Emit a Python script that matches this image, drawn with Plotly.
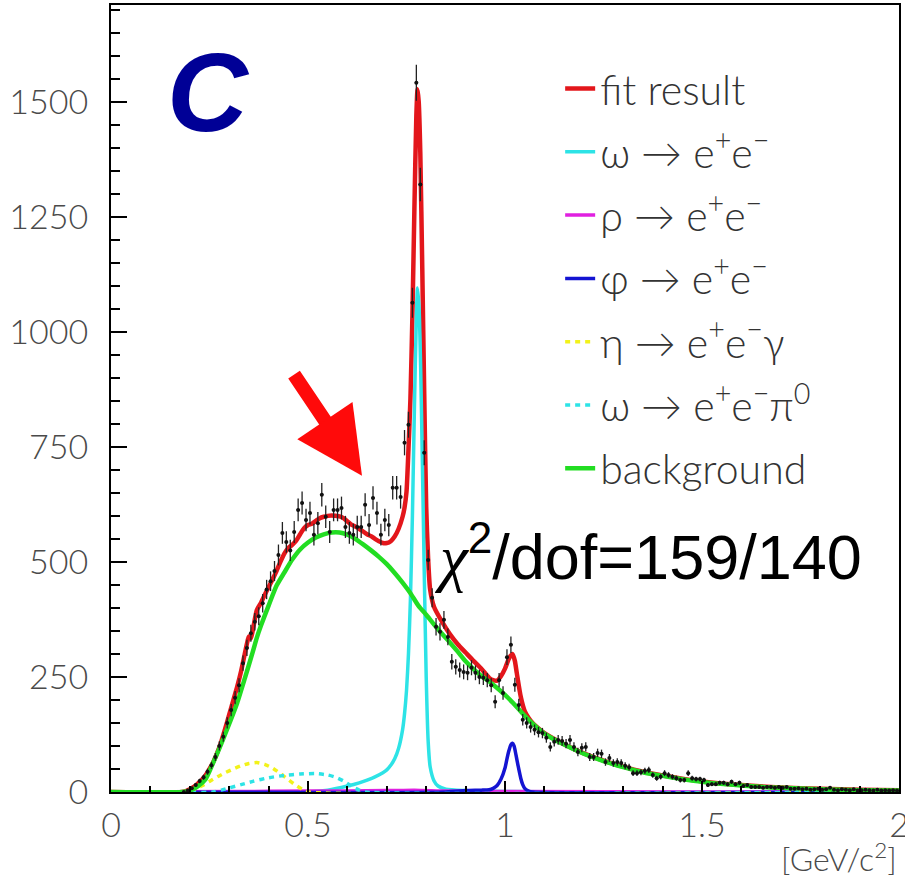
import numpy as np
import plotly.graph_objects as go

# ---------------- data ----------------
# histogram: 10 MeV bins, first bin centre 0.185 GeV/c^2
bin_first_centre = 0.185
bin_width = 0.01
counts = [
    0, 3, 8, 15, 24, 32, 44, 58, 76, 100,
    120, 150, 178, 205, 232, 280, 313, 345, 370, 382,
    410, 440, 458, 480, 515, 563, 543, 525, 565, 613,
    628, 591, 606, 559, 584, 646, 598, 565, 613, 613,
    617, 576, 563, 559, 576, 576, 624, 580, 639, 606,
    559, 591, 580, 661, 661, 641, 759, 798, 1063, 1541,
    1320, 737, 504, 422, 359, 348, 374, 337, 283, 272,
    265, 261, 259, 270, 259, 250, 248, 243, 232, 196,
    243, 215, 293, 320, 233, 189, 157, 150, 141, 135,
    130, 128, 118, 98, 109, 113, 111, 105, 113, 98,
    87, 96, 98, 76, 76, 85, 83, 65, 74, 63,
    65, 63, 57, 54, 41, 41, 43, 46, 48, 37,
    30, 33, 41, 37, 33, 30, 26, 26, 41, 30,
    28, 28, 26, 15, 17, 17, 20, 20, 17, 22,
    17, 20, 13, 15, 11, 11, 11, 9, 11, 11,
    9, 11, 9, 11, 7, 7, 8, 6, 7, 5,
    6, 7, 5, 6, 9, 5, 4, 6, 5, 4,
    6, 3, 4, 5, 4, 3, 5, 3, 4, 3,
    4, 3,
]
errors = [
    0, 1.7, 2.8, 3.9, 4.9, 5.7, 6.6, 7.6, 8.7, 10,
    11, 12.2, 13.3, 14.3, 15.2, 16.7, 17.7, 18.6, 19.2, 19.5,
    20.2, 21, 21.4, 21.9, 22.7, 23.7, 23.3, 22.9, 23.8, 24.8,
    25.1, 24.3, 24.6, 23.6, 24.2, 25.4, 24.5, 23.8, 24.8, 24.8,
    24.8, 24, 23.7, 23.6, 24, 24, 25, 24.1, 25.3, 24.6,
    23.6, 24.3, 24.1, 25.7, 25.7, 25.3, 27.5, 28.2, 32.6, 39.3,
    36.3, 27.1, 22.4, 20.5, 18.9, 18.7, 19.3, 18.4, 16.8, 16.5,
    16.3, 16.2, 16.1, 16.4, 16.1, 15.8, 15.7, 15.6, 15.2, 14,
    15.6, 14.7, 17.1, 17.9, 15.3, 13.7, 12.5, 12.2, 11.9, 11.6,
    11.4, 11.3, 10.9, 9.9, 10.4, 10.6, 10.5, 10.2, 10.6, 9.9,
    9.3, 9.8, 9.9, 8.7, 8.7, 9.2, 9.1, 8.1, 8.6, 7.9,
    8.1, 7.9, 7.5, 7.3, 6.4, 6.4, 6.6, 6.8, 6.9, 6.1,
    5.5, 5.7, 6.4, 6.1, 5.7, 5.5, 5.1, 5.1, 6.4, 5.5,
    5.3, 5.3, 5.1, 3.9, 4.1, 4.1, 4.5, 4.5, 4.1, 4.7,
    4.1, 4.5, 3.6, 3.9, 3.3, 3.3, 3.3, 3, 3.3, 3.3,
    3, 3.3, 3, 3.3, 2.6, 2.6, 2.8, 2.4, 2.6, 2.2,
    2.4, 2.6, 2.2, 2.4, 3, 2.2, 2, 2.4, 2.2, 2,
    2.4, 1.7, 2, 2.2, 2, 1.7, 2.2, 1.7, 2, 1.7,
    2, 1.7,
]

# fit result (red)
fit_x = [0.0, 0.18, 0.19, 0.20, 0.21, 0.22, 0.23, 0.24, 0.25, 0.26, 0.27, 0.28, 0.29,
         0.30, 0.31, 0.32, 0.33, 0.34, 0.345, 0.35, 0.355, 0.36, 0.37, 0.38, 0.39,
         0.40, 0.41, 0.42, 0.43, 0.44, 0.45, 0.46, 0.47, 0.48, 0.49, 0.50, 0.51, 0.52,
         0.53, 0.54, 0.55, 0.56, 0.57, 0.58, 0.59, 0.60, 0.61, 0.62, 0.63, 0.64, 0.65,
         0.66, 0.67, 0.68, 0.69, 0.70, 0.71, 0.72, 0.73, 0.74, 0.745, 0.75, 0.755,
         0.76, 0.765, 0.77, 0.775, 0.778, 0.781, 0.785, 0.79, 0.795, 0.80, 0.805,
         0.81, 0.82, 0.84, 0.86, 0.88, 0.90, 0.92, 0.94, 0.96, 0.97, 0.98, 0.99,
         1.00, 1.01, 1.019, 1.025, 1.03, 1.04, 1.05, 1.06, 1.07, 1.08, 1.10, 1.15,
         1.20, 1.25, 1.30, 1.35, 1.40, 1.45, 1.50, 1.60, 1.70, 1.80, 1.90, 2.00]
fit_y = [0, 0, 2, 6, 11, 18, 26, 36, 50, 66, 86, 110, 138,
         168, 198, 228, 262, 302, 322, 338, 334, 352, 395, 410, 428,
         445, 462, 480, 500, 518, 530, 537, 546, 560, 573, 580, 583, 589,
         595, 598, 600, 601, 600, 599, 595, 588, 581, 577, 572, 566, 560,
         556, 550, 545, 541, 541, 545, 555, 572, 598, 618, 652, 745,
         855, 1035, 1265, 1470, 1527, 1500, 1390, 1140, 865, 620, 505,
         440, 402, 370, 343, 321, 303, 285, 268, 248, 243, 242, 252,
         268, 290, 300, 285, 258, 207, 176, 161, 150, 142, 128, 104,
         84, 68, 55, 44, 36, 29, 23, 15, 10, 7, 5, 4]

# omega -> e+e- (cyan)
omega_x = [0.0, 0.50, 0.55, 0.60, 0.63, 0.65, 0.67, 0.69, 0.70, 0.71, 0.72, 0.73,
           0.74, 0.745, 0.75, 0.755, 0.76, 0.765, 0.77, 0.775, 0.778, 0.782, 0.786,
           0.79, 0.795, 0.80, 0.805, 0.81, 0.82, 0.83, 0.85, 0.90, 1.00, 1.20, 2.00]
omega_y = [0, 0, 4, 13, 20, 26, 33, 42, 48, 58, 72, 95,
           135, 170, 220, 300, 420, 600, 830, 1030, 1095, 1050, 920,
           730, 480, 250, 110, 55, 24, 13, 6, 3, 1, 0, 0]

# rho -> e+e- (magenta)
rho_x = [0.0, 0.30, 0.50, 0.70, 0.77, 0.85, 1.00, 1.50, 2.00]
rho_y = [0, 1, 2, 3, 4, 2, 1, 0, 0]

# phi -> e+e- (blue)
phi_x = [0.0, 0.85, 0.90, 0.94, 0.96, 0.97, 0.98, 0.99, 1.00, 1.005, 1.01, 1.015,
         1.019, 1.023, 1.028, 1.033, 1.04, 1.045, 1.05, 1.06, 1.07, 2.00]
phi_y = [0, 0, 3, 4, 5, 8, 14, 28, 52, 72, 90, 103,
         106, 100, 80, 58, 30, 16, 8, 2, 0, 0]

# eta -> e+e-gamma (yellow, dotted)
eta_x = [0.0, 0.19, 0.21, 0.23, 0.25, 0.27, 0.29, 0.31, 0.33, 0.35, 0.37, 0.39,
         0.41, 0.43, 0.45, 0.47, 0.49, 0.50, 2.00]
eta_y = [0, 0, 5, 13, 23, 33, 42, 50, 57, 62, 64, 60,
         52, 40, 27, 14, 4, 0, 0]

# omega -> e+e-pi0 (cyan, dotted)
omdal_x = [0.0, 0.26, 0.28, 0.30, 0.33, 0.36, 0.40, 0.44, 0.48, 0.52, 0.55, 0.57,
           0.59, 0.61, 0.63, 0.645, 2.00]
omdal_y = [0, 0, 4, 9, 16, 23, 31, 36, 39, 40, 37, 32,
           24, 13, 4, 0, 0]

# background (green)
bkg_x = [0.0, 0.18, 0.20, 0.22, 0.24, 0.26, 0.28, 0.30, 0.32, 0.34, 0.36, 0.37,
         0.38, 0.40, 0.42, 0.44, 0.46, 0.48, 0.50, 0.52, 0.54, 0.56, 0.58, 0.60,
         0.62, 0.64, 0.66, 0.68, 0.70, 0.72, 0.74, 0.76, 0.78, 0.80, 0.82, 0.84,
         0.86, 0.88, 0.90, 0.92, 0.94, 0.96, 0.97, 0.98, 1.00, 1.02, 1.04, 1.06,
         1.08, 1.10, 1.15, 1.20, 1.25, 1.30, 1.35, 1.40, 1.45, 1.50, 1.60, 1.70,
         1.80, 1.90, 2.00]
bkg_y = [0, 0, 3, 12, 28, 65, 105, 148, 193, 248, 305, 335,
         360, 405, 448, 477, 505, 527, 542, 553, 560, 564, 564, 559,
         550, 538, 525, 511, 495, 476, 455, 432, 405, 385, 364, 344,
         325, 305, 284, 267, 252, 240, 233, 226, 211, 194, 175, 157,
         141, 127, 103, 83, 67, 54, 43, 35, 28, 22, 14, 9,
         6, 4, 3]

x_tick_vals = [0, 0.5, 1, 1.5, 2]
x_tick_text = ["0", "0.5", "1", "1.5", "2"]
y_tick_vals = [0, 250, 500, 750, 1000, 1250, 1500]
y_tick_text = ["0", "250", "500", "750", "1000", "1250", "1500"]

legend_names = [
    "fit result",
    "ω → e<sup>+</sup>e<sup>−</sup>",
    "ρ → e<sup>+</sup>e<sup>−</sup>",
    "φ → e<sup>+</sup>e<sup>−</sup>",
    "η → e<sup>+</sup>e<sup>−</sup>γ",
    "ω → e<sup>+</sup>e<sup>−</sup>π<sup>0</sup>",
    "background",
]

# ---------------- figure ----------------
bin_centres = np.round(bin_first_centre + bin_width * np.arange(len(counts)), 4)

fig = go.Figure()

curves = [
    (fit_x, fit_y, "#e3161b", "solid", 4.5),
    (omega_x, omega_y, "#2de3e6", "solid", 3.5),
    (rho_x, rho_y, "#e020e0", "solid", 3.5),
    (phi_x, phi_y, "#1414d2", "solid", 3.5),
    (eta_x, eta_y, "#f2f21a", "5px,5px", 3.5),
    (omdal_x, omdal_y, "#2de3e6", "5px,5px", 3.5),
    (bkg_x, bkg_y, "#22dd22", "solid", 4.5),
]
for i, (cx, cy, col, dash, w) in enumerate(curves):
    fig.add_trace(go.Scatter(
        x=cx, y=cy, mode="lines", name=legend_names[i],
        legendgroup=f"g{i}",
        line=dict(color=col, width=w, dash=dash, shape="spline", smoothing=0.6),
        hoverinfo="skip",
    ))

fig.add_trace(go.Scatter(
    x=bin_centres, y=counts, mode="markers", showlegend=False,
    marker=dict(color="#111111", size=4),
    error_y=dict(type="data", array=errors, visible=True, color="#222222",
                 thickness=1.3, width=0),
    error_x=dict(type="constant", value=bin_width * 0.4, visible=True,
                 color="#222222", thickness=1.3, width=0),
))

tick_font = dict(family="Lato", size=34, color="#4a4a4a", weight=300)

fig.update_xaxes(
    range=[0, 2], tickvals=x_tick_vals, ticktext=x_tick_text,
    ticks="inside", ticklen=11, tickwidth=2, tickcolor="black",
    minor=dict(dtick=0.1, tick0=0, ticks="inside", ticklen=6, tickwidth=1.5,
               tickcolor="black", showgrid=False),
    showline=True, linewidth=2, linecolor="black", mirror=True,
    showgrid=False, zeroline=False, tickfont=tick_font, ticklabelstandoff=2,
    ticklabeloverflow="allow", automargin=False,
)
fig.update_yaxes(
    range=[0, 1710], tickvals=y_tick_vals, ticktext=y_tick_text,
    ticks="inside", ticklen=16, tickwidth=2, tickcolor="black",
    minor=dict(dtick=50, tick0=0, ticks="inside", ticklen=9, tickwidth=1.5,
               tickcolor="black", showgrid=False),
    showline=True, linewidth=2, linecolor="black", mirror=True,
    showgrid=False, zeroline=False, tickfont=tick_font, ticklabelstandoff=14,
    automargin=False,
)

fig.add_annotation(
    text="[GeV/c<sup>2</sup>]", xref="paper", yref="paper", x=1.0, y=-0.112,
    xanchor="right", yanchor="bottom", showarrow=False,
    font=dict(family="Lato", size=32, color="#4a4a4a", weight=300),
)
fig.add_annotation(
    text="<b><i>C</i></b>", xref="x", yref="y", x=0.248, y=1520,
    xanchor="center", yanchor="middle", showarrow=False,
    font=dict(family="Liberation Sans", size=112, color="#000096"),
)
fig.add_annotation(
    text="<span style=\"font-family:'Liberation Serif'\"><i>χ</i></span><sup>2</sup>/dof=159/140",
    xref="x", yref="y", x=0.815, y=520, xanchor="left", yanchor="middle",
    showarrow=False,
    font=dict(family="Liberation Sans", size=63, color="black"),
)
fig.add_annotation(
    text="", xref="x", yref="y", x=0.637, y=687, axref="x", ayref="y",
    ax=0.462, ay=910, showarrow=True, arrowhead=2, arrowsize=0.95,
    arrowwidth=14, arrowcolor="#ff0a0a", standoff=0,
)

fig.update_layout(
    width=905, height=883,
    margin=dict(l=111, r=6, t=5, b=91, autoexpand=False),
    paper_bgcolor="white", plot_bgcolor="white",
    showlegend=True,
    legend=dict(
        x=0.57, y=0.936, xanchor="left", yanchor="top",
        font=dict(family="Lato", size=41, color="#333333", weight=300),
        bgcolor="rgba(0,0,0,0)", tracegroupgap=7, traceorder="grouped",
    ),
)

fig.write_html("out.html")
